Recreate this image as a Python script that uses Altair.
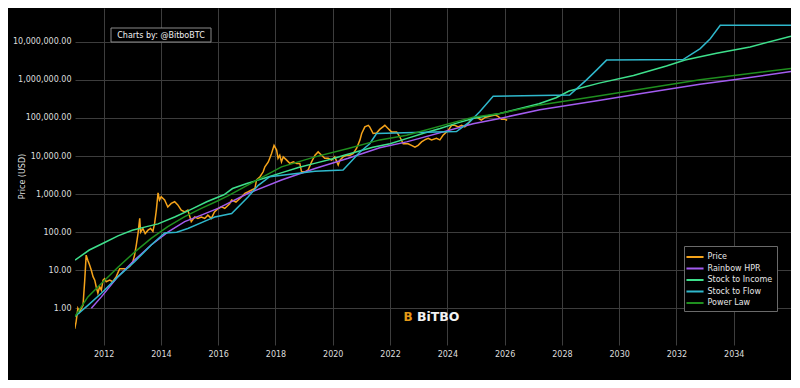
import altair as alt
import pandas as pd

# ---- data (decimal year, USD) ----
price_points = [
    (2010.99, 0.29), (2011.04, 0.45), (2011.10, 1.0), (2011.16, 0.8), (2011.22, 1.0),
    (2011.28, 1.2), (2011.34, 5.5), (2011.39, 25), (2011.45, 18), (2011.51, 13.7),
    (2011.57, 10), (2011.63, 6.8), (2011.69, 5.5), (2011.74, 3.7), (2011.80, 2.5),
    (2011.86, 3.7), (2011.92, 3.0), (2011.98, 5.5), (2012.03, 6), (2012.09, 5),
    (2012.21, 5.5), (2012.32, 5), (2012.44, 6.8), (2012.56, 11), (2012.67, 11),
    (2012.79, 11), (2012.91, 12.5), (2013.02, 16.7), (2013.08, 25), (2013.14, 46),
    (2013.20, 92), (2013.26, 230), (2013.29, 100), (2013.37, 125), (2013.45, 92),
    (2013.55, 113), (2013.64, 125), (2013.72, 105), (2013.78, 170), (2013.84, 380),
    (2013.90, 1080), (2013.95, 700), (2014.01, 850), (2014.13, 700), (2014.24, 460),
    (2014.36, 570), (2014.48, 630), (2014.59, 520), (2014.71, 380), (2014.83, 340),
    (2014.94, 380), (2015.06, 190), (2015.18, 250), (2015.29, 230), (2015.41, 250),
    (2015.53, 230), (2015.64, 280), (2015.76, 230), (2015.87, 340), (2016.00, 420),
    (2016.12, 460), (2016.23, 420), (2016.40, 560), (2016.47, 700), (2016.62, 620),
    (2016.82, 850), (2016.93, 1050), (2017.05, 1150), (2017.17, 1280), (2017.28, 1400),
    (2017.34, 2350), (2017.46, 2850), (2017.57, 3850), (2017.63, 5200), (2017.75, 7000),
    (2017.86, 11500), (2017.95, 19000), (2018.04, 14300), (2018.09, 8700), (2018.15, 10500),
    (2018.21, 7000), (2018.27, 9500), (2018.39, 7800), (2018.50, 6400), (2018.62, 7000),
    (2018.74, 6400), (2018.85, 6400), (2018.91, 3850), (2019.03, 3850), (2019.14, 4300),
    (2019.26, 7000), (2019.38, 10500), (2019.49, 12800), (2019.61, 10500), (2019.72, 8700),
    (2019.84, 8700), (2019.96, 7800), (2020.07, 9500), (2020.19, 5800), (2020.25, 7800),
    (2020.36, 9500), (2020.48, 10500), (2020.60, 10500), (2020.71, 11500), (2020.83, 15800),
    (2020.95, 26500), (2021.01, 39000), (2021.12, 58000), (2021.24, 64000), (2021.29, 58000),
    (2021.41, 39000), (2021.53, 40000), (2021.64, 50000), (2021.82, 64000), (2021.93, 53000),
    (2022.05, 43000), (2022.23, 43000), (2022.34, 32000), (2022.46, 21000), (2022.63, 21000),
    (2022.75, 19000), (2022.87, 17000), (2022.98, 19000), (2023.10, 23500), (2023.21, 26500),
    (2023.33, 29000), (2023.45, 26500), (2023.62, 29000), (2023.74, 26500), (2023.85, 35000),
    (2024.03, 47000), (2024.15, 64000), (2024.26, 64000), (2024.38, 58000), (2024.50, 64000),
    (2024.61, 58000), (2024.73, 70000), (2024.85, 97000), (2025.02, 105000), (2025.19, 88000),
    (2025.31, 102000), (2025.48, 110000), (2025.66, 120000), (2025.77, 110000), (2025.89, 92000),
    (2026.01, 92000), (2026.09, 87000),
]

rainbow_points = [
    (2011.57, 1.0), (2011.92, 2.0), (2012.50, 6.8), (2013.08, 18.5), (2013.66, 46),
    (2014.24, 100), (2014.83, 190), (2015.41, 280), (2015.99, 420), (2016.34, 570),
    (2017.05, 1050), (2018.21, 2350), (2019.38, 4700), (2020.54, 8700), (2021.64, 16500),
    (2022.58, 23500), (2024.90, 70000), (2025.83, 97000), (2027.23, 165000),
    (2029.34, 290000), (2030.72, 430000), (2032.82, 770000), (2034.00, 1000000),
    (2036.00, 1650000),
]

s2i_points = [
    (2011.00, 18.5), (2011.50, 34), (2012.00, 52), (2012.50, 80), (2013.00, 112),
    (2013.50, 140), (2013.90, 165), (2014.50, 255), (2015.00, 380), (2015.60, 630),
    (2016.20, 960), (2016.50, 1400), (2017.00, 1900), (2017.60, 2600), (2018.20, 3600),
    (2018.80, 5000), (2019.40, 6500), (2020.00, 8500), (2020.40, 10500), (2021.40, 17000),
    (2022.00, 21000), (2022.60, 29000), (2023.20, 40000), (2023.75, 53000), (2024.30, 72000),
    (2024.90, 97000), (2025.83, 130000), (2027.20, 235000), (2027.80, 340000),
    (2028.25, 510000), (2029.30, 820000), (2030.50, 1300000), (2031.65, 2300000),
    (2032.30, 3300000), (2033.40, 5000000), (2034.57, 7300000), (2036.00, 14000000),
]

s2f_points = [
    (2010.99, 0.6), (2011.45, 1.2), (2011.92, 2.5), (2012.50, 6.8), (2013.08, 16.7),
    (2013.66, 46), (2014.13, 95), (2014.55, 100), (2014.94, 125), (2015.64, 210),
    (2015.88, 250), (2016.47, 310), (2017.05, 850), (2017.40, 1700), (2017.80, 2850),
    (2019.38, 4000), (2020.36, 4300), (2020.95, 12800), (2021.29, 21000), (2021.53, 39000),
    (2022.50, 41000), (2024.32, 44000), (2024.79, 80000), (2025.13, 145000),
    (2025.60, 370000), (2028.27, 400000), (2028.86, 1000000), (2029.21, 1800000),
    (2029.56, 3300000), (2032.23, 3400000), (2032.83, 6600000), (2033.18, 12000000),
    (2033.53, 27000000), (2036.00, 27000000),
]

power_points = [
    (2010.99, 0.6), (2011.45, 2.0), (2011.92, 4.5), (2012.50, 12), (2013.08, 30),
    (2013.66, 69), (2014.24, 140), (2014.83, 255), (2015.41, 420), (2015.99, 670),
    (2016.34, 900), (2018.21, 5200), (2019.38, 9500), (2020.54, 15800), (2021.64, 26500),
    (2022.58, 35000), (2024.90, 105000), (2025.83, 130000), (2027.23, 220000),
    (2029.32, 380000), (2032.82, 1000000), (2036.00, 2000000),
]

series_names = ["Price", "Rainbow HPR", "Stock to Income", "Stock to Flow", "Power Law"]
series_colors = ["#f5a31a", "#a35cf0", "#3ee08c", "#2fb8cc", "#1f8f1f"]

year_ticks = [2012, 2014, 2016, 2018, 2020, 2022, 2024, 2026, 2028, 2030, 2032, 2034]
price_ticks = [1, 10, 100, 1000, 10000, 100000, 1000000, 10000000]

# ---- tables ----
price_df = pd.DataFrame(price_points, columns=["year", "value"])
price_df["series"] = "Price"

model_frames = []
for name, pts in [("Rainbow HPR", rainbow_points), ("Stock to Income", s2i_points),
                  ("Stock to Flow", s2f_points), ("Power Law", power_points)]:
    d = pd.DataFrame(pts, columns=["year", "value"])
    d["series"] = name
    model_frames.append(d)
model_df = pd.concat(model_frames, ignore_index=True)

FONT = "DejaVu Sans"

x_enc = alt.X("year:Q",
              scale=alt.Scale(domain=[2011, 2036], nice=False, zero=False),
              axis=alt.Axis(values=year_ticks, format="d", title=None, labelPadding=5))
y_enc = alt.Y("value:Q",
              scale=alt.Scale(type="log", domain=[0.109, 7.7e7], nice=False),
              axis=alt.Axis(values=price_ticks, format=",.2f", title="Price (USD)",
                            titleX=-53, titleY=168, titleAngle=270, titleAlign="center",
                            titleBaseline="middle"))
color_scale = alt.Scale(domain=series_names, range=series_colors)

price_layer = alt.Chart(price_df).mark_line(strokeWidth=1.5, clip=True).encode(
    x=x_enc, y=y_enc,
    color=alt.Color("series:N", scale=color_scale,
                    legend=alt.Legend(orient="none", legendX=609, legendY=238, title=None,
                                      fillColor="#000000", strokeColor="#6a6a6a", padding=4,
                                      symbolType="M-1.5,0L1.5,0", symbolSize=130,
                                      symbolStrokeWidth=2, symbolFillColor="transparent",
                                      labelFontSize=8, labelColor="#e6e6e6", labelFont=FONT,
                                      rowPadding=0.5, labelOffset=5.5)),
)

model_layer = alt.Chart(model_df).mark_line(strokeWidth=1.5, clip=True).encode(
    x=x_enc, y=y_enc,
    color=alt.Color("series:N", scale=color_scale),
    detail="series:N",
)

dummy = pd.DataFrame({"k": [0]})
note_box = alt.Chart(dummy).mark_rect(fill="#000000", stroke="#8a8a8a", strokeWidth=1).encode(
    x=alt.value(36), x2=alt.value(136), y=alt.value(20), y2=alt.value(34))
note_text = alt.Chart(dummy).mark_text(text="Charts by: @BitboBTC", font=FONT, fontSize=8,
                                       color="#f0f0f0", align="center", baseline="middle").encode(
    x=alt.value(86), y=alt.value(27.5))
logo = alt.Chart(dummy).mark_text(text="B", font=FONT, fontSize=12, fontWeight="bold",
                                  color="#e59a17", align="center", baseline="middle").encode(
    x=alt.value(333), y=alt.value(309))
brand = alt.Chart(dummy).mark_text(text="BiTBO", font=FONT, fontSize=12.5, fontWeight="bold",
                                   color="#f2f2f2", align="left", baseline="middle").encode(
    x=alt.value(342), y=alt.value(309))

chart = alt.layer(price_layer, model_layer, note_box, note_text, logo, brand).properties(
    width=716, height=337,
    padding={"left": 67, "top": 0, "right": 0, "bottom": 35},
    autosize=alt.AutoSizeParams(type="none"),
    background="#000000",
).configure_view(stroke=None, fill="#000000").configure_axis(
    grid=True, gridColor="#3d3d3d", gridWidth=1, domain=False, ticks=False,
    labelFont=FONT, labelFontSize=8, labelColor="#dddddd", labelPadding=4,
    titleFont=FONT, titleFontSize=8, titleColor="#dddddd", titleFontWeight="normal",
)

chart.save("out.html", embed_options={"renderer": "svg", "actions": False})
